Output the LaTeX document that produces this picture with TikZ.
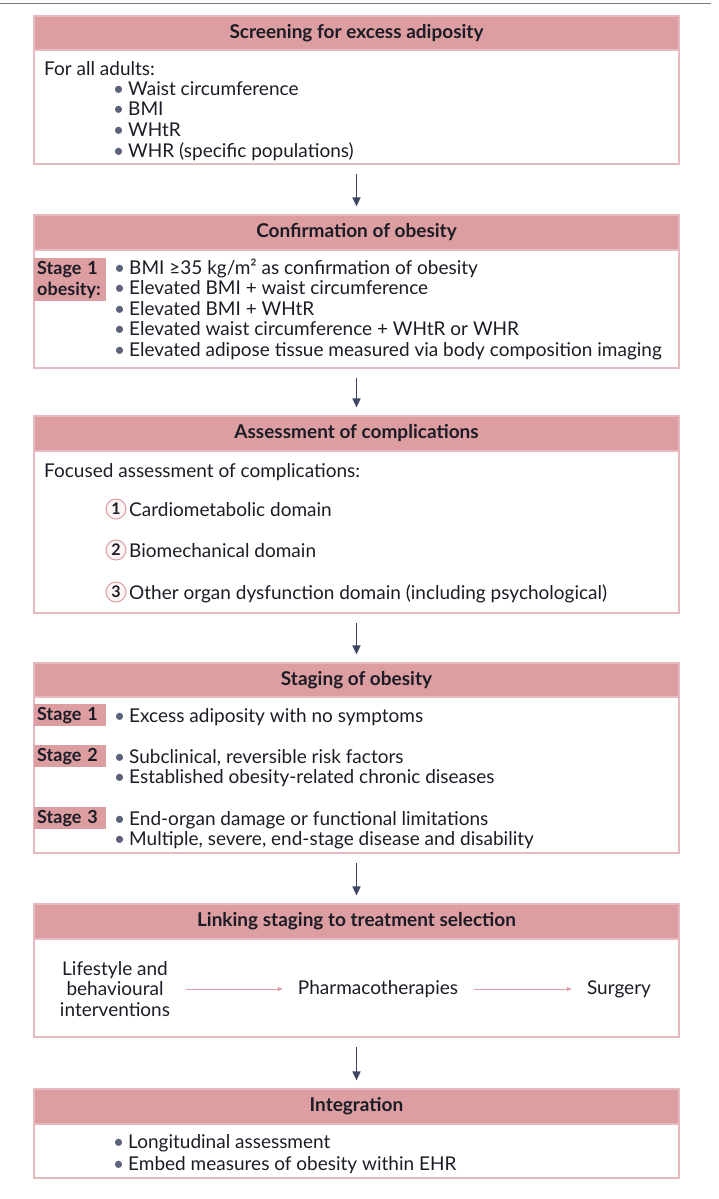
\documentclass[tikz,border=0pt]{standalone}
\usepackage{fontspec}
\setmainfont{Lato}
\usetikzlibrary{
    arrows.meta,
    positioning
}

\definecolor{headpink}{RGB}{221,158,161}
\definecolor{edgepink}{RGB}{230,186,190}
\definecolor{inkdark}{RGB}{28,28,38}
\definecolor{slate}{RGB}{62,70,98}
\definecolor{rulegrey}{RGB}{125,125,125}

\newcommand{\bul}{\textcolor{slate!85}{\textbullet}\hspace{4pt}}

\tikzset{
    head/.style={draw=edgepink, fill=headpink, line width=1.2pt, minimum width=645pt,
        inner sep=0pt, text=inkdark, font=\bfseries\fontsize{19}{22}\selectfont},
    frame/.style={draw=edgepink, line width=1.2pt, minimum width=645pt, inner sep=0pt},
    txt/.style={anchor=base west, align=left, inner sep=0pt, text=inkdark,
        font=\fontsize{19}{20.6}\selectfont},
    stagetag/.style={anchor=north west, fill=headpink, align=left, inner xsep=3pt,
        inner ysep=0pt, text width=66pt, text=inkdark,
        font=\bfseries\fontsize{18}{20.5}\selectfont},
    num/.style={circle, draw=headpink, line width=1pt, fill=headpink!12, minimum size=20pt,
        inner sep=0pt, text=inkdark, font=\bfseries\fontsize{16}{16}\selectfont},
    flow/.style={draw=slate, line width=1.6pt, -{Triangle[length=9pt,width=8pt]},
        shorten <=9pt, shorten >=8pt},
    pinkflow/.style={draw=headpink, line width=0.9pt, -{Triangle[length=5pt,width=4pt]},
        shorten <=16pt, shorten >=15pt}
}

\begin{document}
\begin{tikzpicture}[x=1pt, y=-1pt]

\useasboundingbox (0,0) rectangle (718,1199);

% rule at the top
\draw[rulegrey, line width=1.6pt] (0,3.5) -- (711,3.5);

% screening
\node[frame, minimum height=114pt] (b1) at (356.5,107) {};
\node[head, minimum height=34pt] (h1) at (356.5,33) {Screening for excess adiposity};
\node[txt] (adults) at (44,75) {For all adults:};
\node[txt] (screenlist) at (113,157) {\bul Waist circumference\\ \bul BMI\\ \bul WHtR\\
    \bul WHR (specific populations)};

% confirmation
\node[frame, minimum height=118pt] (b2) at (356.5,309) {};
\node[head, minimum height=35pt] (h2) at (356.5,232.5) {Confirmation of obesity};
\node[stagetag, minimum height=43pt] (s1ob) at (34,258) {Stage 1\\obesity:};
\node[txt, font=\fontsize{19}{20.5}\selectfont] (confirmlist) at (114,356)
    {\bul BMI ≥35 kg/m² as confirmation of obesity\\
    \bul Elevated BMI + waist circumference\\
    \bul Elevated BMI + WHtR\\
    \bul Elevated waist circumference + WHtR or WHR\\
    \bul Elevated adipose tissue measured via body composition imaging};

% complications
\node[frame, minimum height=162pt] (b3) at (356.5,532) {};
\node[head, minimum height=35pt] (h3) at (356.5,433.5) {Assessment of complications};
\node[txt] (focused) at (44,477) {Focused assessment of complications:};
\node[num] (c1) at (116,509) {1};
\node[num] (c2) at (116,550) {2};
\node[num] (c3) at (116,592) {3};
\node[txt] (d1) at (129,516) {Cardiometabolic domain};
\node[txt] (d2) at (129,557) {Biomechanical domain};
\node[txt] (d3) at (129,599) {Other organ dysfunction domain (including psychological)};

% staging
\node[frame, minimum height=156pt] (b4) at (356.5,775) {};
\node[head, minimum height=34pt] (h4) at (356.5,680) {Staging of obesity};
\node[stagetag, minimum height=22pt] (st1) at (34,704) {Stage 1};
\node[stagetag, minimum height=22pt] (st2) at (34,745) {Stage 2};
\node[stagetag, minimum height=22pt] (st3) at (34,807) {Stage 3};
\node[txt] (stlist1) at (114,722) {\bul Excess adiposity with no symptoms};
\node[txt, font=\fontsize{19}{20}\selectfont] (stlist2) at (114,783)
    {\bul Subclinical, reversible risk factors\\
    \bul Established obesity-related chronic diseases};
\node[txt, font=\fontsize{19}{20}\selectfont] (stlist3) at (114,845)
    {\bul End-organ damage or functional limitations\\
    \bul Multiple, severe, end-stage disease and disability};

% treatment
\node[frame, minimum height=98pt] (b5) at (356.5,988) {};
\node[head, minimum height=35pt] (h5) at (356.5,921.5) {Linking staging to treatment selection};
\node[align=center, inner sep=0pt, text=inkdark, font=\fontsize{19}{20.5}\selectfont]
    (life) at (115,989) {Lifestyle and\\behavioural\\interventions};
\node[inner sep=0pt, text=inkdark, font=\fontsize{19}{20.5}\selectfont]
    (pharma) at (378,989) {Pharmacotherapies};
\node[inner sep=0pt, text=inkdark, font=\fontsize{19}{20.5}\selectfont]
    (surg) at (619,989) {Surgery};
\draw[pinkflow] (life) -- (pharma);
\draw[pinkflow] (pharma) -- (surg);

% integration
\node[frame, minimum height=54pt] (b6) at (356.5,1151) {};
\node[head, minimum height=35pt] (h6) at (356.5,1106.5) {Integration};
\node[txt, font=\fontsize{19}{22}\selectfont] (intlist) at (113,1170)
    {\bul Longitudinal assessment\\ \bul Embed measures of obesity within EHR};

% arrows between the steps
\draw[flow] (b1.south) -- (h2.north);
\draw[flow] (b2.south) -- (h3.north);
\draw[flow] (b3.south) -- (h4.north);
\draw[flow] (b4.south) -- (h5.north);
\draw[flow] (b5.south) -- (h6.north);

\end{tikzpicture}
\end{document}
